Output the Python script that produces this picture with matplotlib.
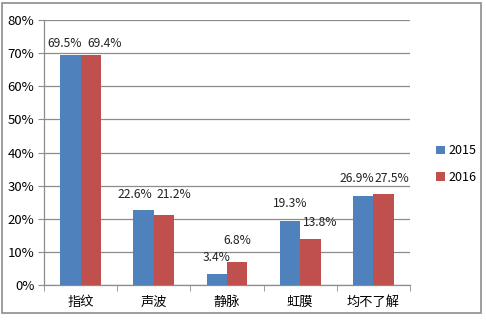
import numpy as np
import matplotlib.pyplot as plt
from matplotlib.patches import Rectangle

plt.rcParams['font.family'] = ['Noto Sans CJK SC', 'DejaVu Sans']

categories = ['指纹', '声波', '静脉', '虹膜', '均不了解']
v2015 = [69.5, 22.6, 3.4, 19.3, 26.9]
v2016 = [69.4, 21.2, 6.8, 13.8, 27.5]
series_names = ['2015', '2016']

# label nudges in pixels (x, y above bar top)
dx2015 = [-6, -9, 0, 0, -6]
dy2015 = [5, 9, 10, 11, 11]
dx2016 = [14, 10, 0, 10, 8]
dy2016 = [5, 14, 15, 10, 9]

blue = '#4F81BD'
red = '#C0504D'
grid_c = '#8C8C8C'

fig = plt.figure(figsize=(4.86, 3.26), dpi=100)
ax = fig.add_axes([44 / 486, 1 - 285 / 326, (410 - 44) / 486, (285 - 20) / 326])

# outer frame of the chart area
fig.patches.append(Rectangle((2 / 486, 1 - 313 / 326), 479 / 486, 310 / 326,
                             transform=fig.transFigure, fill=False,
                             edgecolor='#8C8C8C', linewidth=1.2))

x = np.arange(len(categories))
w = 0.28
b1 = ax.bar(x - w / 2, v2015, w, color=blue, label=series_names[0], zorder=3)
b2 = ax.bar(x + w / 2, v2016, w, color=red, label=series_names[1], zorder=3)

for bars, vals, dxs, dys in ((b1, v2015, dx2015, dy2015), (b2, v2016, dx2016, dy2016)):
    for r, v, dx, dy in zip(bars, vals, dxs, dys):
        ax.annotate(f'{v}%', (r.get_x() + r.get_width() / 2, v),
                    xytext=(dx, dy), textcoords='offset pixels',
                    ha='center', va='bottom', fontsize=8.7, color='#222222',
                    zorder=4)

ax.set_xlim(-0.5, len(categories) - 0.5)
ax.set_ylim(0, 80)
ax.set_yticks(np.arange(0, 81, 10))
ax.set_yticklabels([f'{t}%' for t in range(0, 81, 10)], fontsize=9.5)
ax.set_xticks(x)
ax.set_xticklabels(categories, fontsize=9.5)
ax.set_xticks(np.arange(-0.5, len(categories), 1), minor=True)
ax.tick_params(axis='x', which='major', length=0, pad=8)
ax.tick_params(axis='x', which='minor', length=4, color=grid_c, direction='out')
ax.tick_params(axis='y', length=4, color=grid_c, pad=3)

ax.yaxis.grid(True, color=grid_c, linewidth=0.9, zorder=0)
ax.set_axisbelow(True)
for s in ['top', 'right']:
    ax.spines[s].set_visible(False)
for s in ['left', 'bottom']:
    ax.spines[s].set_color(grid_c)
    ax.spines[s].set_linewidth(0.9)

ax.legend(loc='upper left', bbox_to_anchor=(425 / 486, 1 - 133 / 326),
          bbox_transform=fig.transFigure, frameon=False, fontsize=9,
          handlelength=0.7, handleheight=0.7, handletextpad=0.3,
          labelspacing=1.1)

fig.savefig('out.png', dpi=100)
